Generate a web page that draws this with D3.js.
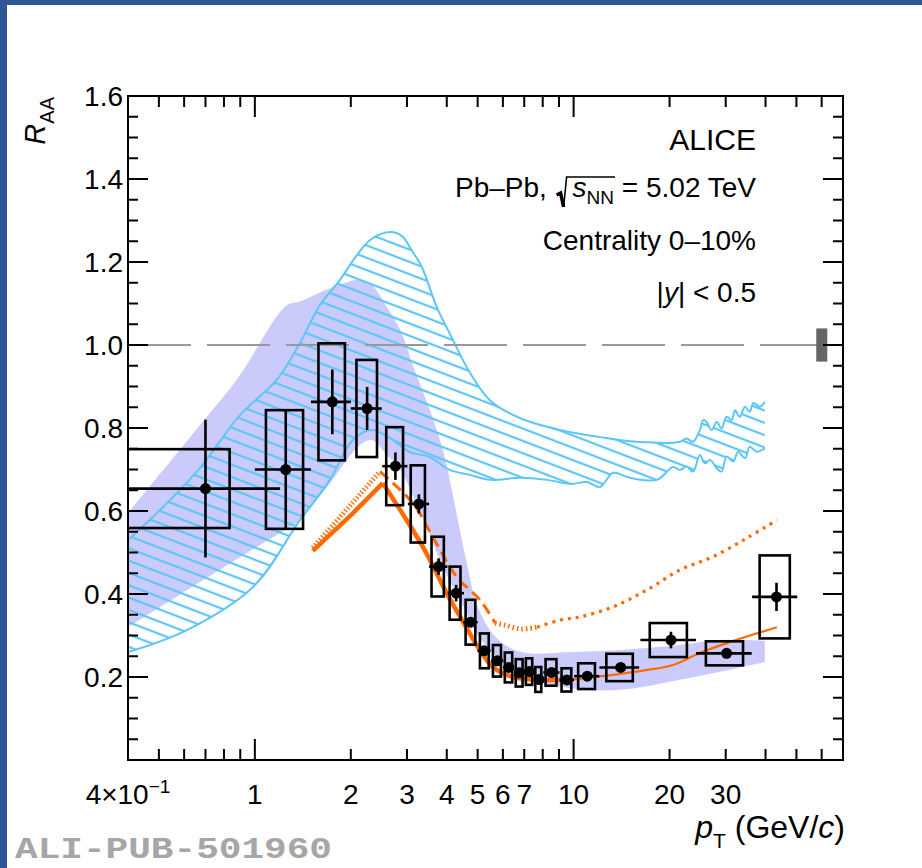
<!DOCTYPE html>
<html><head><meta charset="utf-8">
<script src="https://cdn.jsdelivr.net/npm/d3@7"></script>
<style>body{margin:0;background:#fff}svg{display:block}</style>
</head><body><svg id="c" width="922" height="868"></svg>
<script>
// ---------------- data ----------------
const ptBinLo = [0,1,1.5,2,2.5,3,3.5,4,4.5,5,5.5,6,6.5,7,7.5,8,9,10,12,16,24,36];
const ptBinHi = [1,1.5,2,2.5,3,3.5,4,4.5,5,5.5,6,6.5,7,7.5,8,9,10,12,16,24,36,50];
const ptMean  = [0.70,1.25,1.75,2.25,2.76,3.27,3.77,4.28,4.75,5.24,5.76,6.26,6.75,7.26,7.79,8.53,9.53,11.04,14.05,20.2,30.2,43.3];
const raa     = [0.654,0.700,0.863,0.847,0.708,0.617,0.466,0.402,0.332,0.263,0.239,0.223,0.210,0.213,0.194,0.211,0.193,0.202,0.223,0.289,0.257,0.393];
const statErr = [0.166,0.142,0.078,0.052,0.033,0.023,0.020,0.020,0.012,0.008,0.008,0.008,0.008,0.008,0.008,0.008,0.008,0.008,0.008,0.020,0.012,0.034];
const sysErr  = [0.095,0.143,0.141,0.117,0.094,0.093,0.072,0.064,0.054,0.042,0.038,0.036,0.033,0.032,0.030,0.032,0.028,0.031,0.033,0.041,0.029,0.100];

// model band 1 (filled, lavender)
const bandAPt = [0.4,0.673,0.877,1.259,1.385,1.72,2.136,2.325,2.592,2.86,3.14,3.54,3.89,4.6,5.0,5.7,6.83,9.83,14.0,21.4,28.6,39.8];
const bandAHi = [0.595,0.807,0.916,1.096,1.105,1.137,1.157,1.145,1.092,1.036,0.948,0.843,0.747,0.482,0.369,0.296,0.260,0.260,0.265,0.277,0.289,0.287];
const bandALo = [0.320,0.429,0.484,0.557,0.578,0.667,0.759,0.771,0.735,0.699,0.636,0.542,0.465,0.357,0.301,0.251,0.205,0.173,0.169,0.193,0.212,0.236];

// model band 2 (hatched, light blue)
const bandBUpPt  = [0.4,0.522,0.673,0.898,1.171,1.385,1.60,1.85,2.06,2.30,2.65,2.89,3.10,3.34,3.72,4.14,4.73,5.46,6.78,9.06,12.1,16.1,21.56,22.6,23.7,24.9,25.5,26.1,27.1,28.1,29.1,30.2,31.3,32.1,33.2,34.5,35.7,36.6,38.4,39.8];
const bandBUpRaa = [0.530,0.614,0.704,0.831,0.916,1.005,1.096,1.157,1.210,1.253,1.272,1.263,1.229,1.188,1.092,1.019,0.933,0.867,0.824,0.795,0.778,0.766,0.767,0.775,0.767,0.795,0.819,0.815,0.795,0.815,0.799,0.827,0.819,0.843,0.827,0.851,0.839,0.860,0.851,0.863];
const bandBLoPt  = [0.4,0.612,0.987,1.385,1.72,2.03,2.33,2.65,3.07,3.54,4.09,4.73,5.46,6.78,8.25,9.83,11.0,12.1,13.3,15.0,18.25,20.5,21.56,22.6,23.7,24.9,25.8,26.8,28.1,29.1,30.2,31.7,32.8,34.5,35.7,37.5,39.8];
const bandBLoRaa = [0.260,0.313,0.417,0.578,0.675,0.771,0.795,0.776,0.742,0.730,0.699,0.687,0.675,0.680,0.675,0.665,0.670,0.658,0.692,0.680,0.675,0.706,0.699,0.707,0.695,0.735,0.715,0.723,0.703,0.695,0.731,0.719,0.743,0.727,0.755,0.743,0.751];

// model curve 1 (solid orange)
const solidPt  = [1.52,1.99,2.52,2.86,3.37,4.0,4.56,5.08,5.58,6.45,8.25,9.53,11.0,13.3,17.0,20.5,24.9,30.9,43.4];
const solidRaa = [0.504,0.588,0.667,0.602,0.513,0.402,0.325,0.265,0.224,0.200,0.193,0.193,0.198,0.205,0.217,0.229,0.258,0.284,0.320];
// model curve 2 (dotted / dashed orange)
const dotPt  = [1.52,2.47,3.13,3.62,4.30,5.08,5.67,6.09,6.83,7.68,9.06,10.5,13.3,17.0,21.56,27.4,35.0,43.4];
const dotRaa = [0.511,0.695,0.619,0.537,0.441,0.386,0.330,0.325,0.316,0.320,0.337,0.345,0.369,0.410,0.458,0.490,0.535,0.578];

const normUnc = 0.04;
const normBoxPt = [57.7, 62.5];

const xMajor = [1,10];
const xMinor = [0.5,0.6,0.7,0.8,0.9,2,3,4,5,6,7,8,9,20,30,40,50,60];
const xLabels = [[0.4,"4×10"],[1,"1"],[2,"2"],[3,"3"],[4,"4"],[5,"5"],[6,"6"],[7,"7"],[10,"10"],[20,"20"],[30,"30"]];
const yMajor = [0.2,0.4,0.6,0.8,1.0,1.2,1.4,1.6];
const yLabels = ["0.2","0.4","0.6","0.8","1.0","1.2","1.4","1.6"];

// ---------------- chart ----------------
const FONT = "'Liberation Sans',Arial,Helvetica,sans-serif";
const svg = d3.select("#c").style("font-family", FONT);
const W = 922, H = 868;
const L = 128, R = 843, T = 96, B = 760;
const x = d3.scaleLog().domain([0.4, 70]).range([L, R]);
const y = d3.scaleLinear().domain([0, 1.6]).range([B, T]);

svg.append("rect").attr("width", W).attr("height", H).attr("fill", "#fff");
svg.append("rect").attr("x", 0).attr("y", 0).attr("width", W).attr("height", 5).attr("fill", "#2f5597");
svg.append("rect").attr("x", 0).attr("y", 0).attr("width", 7).attr("height", H).attr("fill", "#2f5597");

const defs = svg.append("defs");
defs.append("clipPath").attr("id", "plot").append("rect")
  .attr("x", L).attr("y", T).attr("width", R - L).attr("height", B - T);
const pat = defs.append("pattern").attr("id", "hatch").attr("patternUnits", "userSpaceOnUse")
  .attr("width", 30).attr("height", 11.5).attr("patternTransform", "rotate(21)");
pat.append("line").attr("x1", 0).attr("x2", 30).attr("y1", 5.75).attr("y2", 5.75)
  .attr("stroke", "#5dc6f6").attr("stroke-width", 2.2);

const g = svg.append("g").attr("clip-path", "url(#plot)");
const smooth = d3.line().x(d => x(d[0])).y(d => y(d[1])).curve(d3.curveCatmullRom.alpha(0.5));
const straight = d3.line().x(d => x(d[0])).y(d => y(d[1]));
function bandPath(up, lo, gen) {
  return gen(up) + "L" + gen(lo.slice().reverse()).slice(1) + "Z";
}

// band A
const aUp = bandAPt.map((p, i) => [p, bandAHi[i]]);
const aLo = bandAPt.map((p, i) => [p, bandALo[i]]);
g.append("path").attr("d", bandPath(aUp, aLo, smooth)).attr("fill", "#cbcbfb").attr("stroke", "none");

// band B
const bUp = bandBUpPt.map((p, i) => [p, bandBUpRaa[i]]);
const bLo = bandBLoPt.map((p, i) => [p, bandBLoRaa[i]]);
g.append("path").attr("d", bandPath(bUp, bLo, smooth)).attr("fill", "url(#hatch)");
g.append("path").attr("d", smooth(bUp)).attr("fill", "none").attr("stroke", "#5dc6f6").attr("stroke-width", 2);
g.append("path").attr("d", smooth(bLo)).attr("fill", "none").attr("stroke", "#5dc6f6").attr("stroke-width", 2);

// unity line
g.append("line").attr("x1", L).attr("x2", R).attr("y1", y(1)).attr("y2", y(1))
  .attr("stroke", "#999").attr("stroke-width", 2).attr("stroke-dasharray", "63,16");
g.append("rect").attr("x", x(normBoxPt[0])).attr("width", x(normBoxPt[1]) - x(normBoxPt[0]))
  .attr("y", y(1 + normUnc)).attr("height", y(1 - normUnc) - y(1 + normUnc)).attr("fill", "#666");

// orange curves
const orange = "#ff6a00";
const sPts = solidPt.map((p, i) => [p, solidRaa[i]]);
g.append("path").attr("d", smooth(sPts.slice(2))).attr("fill", "none").attr("stroke", orange).attr("stroke-width", 2.2);
g.append("path").attr("d", straight(sPts.slice(0, 3))).attr("fill", "none").attr("stroke", orange).attr("stroke-width", 4.5);
g.append("path").attr("d", smooth(sPts.slice(2).filter(d => d[0] <= 9.6))).attr("fill", "none").attr("stroke", orange).attr("stroke-width", 4.5);

const dPts = dotPt.map((p, i) => [p, dotRaa[i]]);
function piece(i0, i1, w, dash, gen) {
  g.append("path").attr("d", gen(dPts.slice(i0, i1 + 1))).attr("fill", "none")
    .attr("stroke", orange).attr("stroke-width", w).attr("stroke-dasharray", dash);
}
piece(0, 1, 5, "1.3,2.2", straight);
piece(1, 6, 3, "11,6", smooth);
piece(6, 9, 5, "1.5,3", smooth);
piece(9, dPts.length - 1, 3.2, "3,5", smooth);

// data
const dg = svg.append("g").attr("clip-path", "url(#plot)");
const lw = 2.6;
ptMean.forEach((p, i) => {
  const c = (ptBinLo[i] + ptBinHi[i]) / 2, hw = (ptBinHi[i] - ptBinLo[i]) / 2;
  const bw = (ptBinHi[i] - ptBinLo[i]) / 3;
  dg.append("rect").attr("x", x(Math.max(c - bw, 0.3))).attr("width", x(c + bw) - x(Math.max(c - bw, 0.3)))
    .attr("y", y(raa[i] + sysErr[i])).attr("height", y(raa[i] - sysErr[i]) - y(raa[i] + sysErr[i]))
    .attr("fill", "none").attr("stroke", "#000").attr("stroke-width", lw);
  dg.append("line").attr("x1", x(Math.max(p - hw, 0.3))).attr("x2", x(p + hw)).attr("y1", y(raa[i])).attr("y2", y(raa[i]))
    .attr("stroke", "#000").attr("stroke-width", lw);
  dg.append("line").attr("x1", x(p)).attr("x2", x(p)).attr("y1", y(raa[i] - statErr[i])).attr("y2", y(raa[i] + statErr[i]))
    .attr("stroke", "#000").attr("stroke-width", lw);
  dg.append("circle").attr("cx", x(p)).attr("cy", y(raa[i])).attr("r", 5.5).attr("fill", "#000");
});

// frame & ticks
svg.append("rect").attr("x", L).attr("y", T).attr("width", R - L).attr("height", B - T)
  .attr("fill", "none").attr("stroke", "#000").attr("stroke-width", 2);
const tk = svg.append("g").attr("stroke", "#000").attr("stroke-width", 2);
xMajor.forEach(v => {
  tk.append("line").attr("x1", x(v)).attr("x2", x(v)).attr("y1", B).attr("y2", B - 21);
  tk.append("line").attr("x1", x(v)).attr("x2", x(v)).attr("y1", T).attr("y2", T + 21);
});
xMinor.forEach(v => {
  tk.append("line").attr("x1", x(v)).attr("x2", x(v)).attr("y1", B).attr("y2", B - 11);
  tk.append("line").attr("x1", x(v)).attr("x2", x(v)).attr("y1", T).attr("y2", T + 11);
});
d3.range(0, 1.6001, 0.05).forEach(v => {
  const major = Math.abs(v / 0.2 - Math.round(v / 0.2)) < 1e-6;
  const len = major ? 20 : 10;
  tk.append("line").attr("x1", L).attr("x2", L + len).attr("y1", y(v)).attr("y2", y(v));
  tk.append("line").attr("x1", R).attr("x2", R - len).attr("y1", y(v)).attr("y2", y(v));
});

// tick labels
xLabels.forEach(([v, s]) => {
  const t = svg.append("text").attr("x", x(v)).attr("y", 804).attr("text-anchor", "middle").attr("font-size", 28);
  t.append("tspan").text(s);
  if (v === 0.4) t.append("tspan").attr("font-size", 19).attr("dy", -11).text("−1");
});
yMajor.forEach((v, i) => {
  svg.append("text").attr("x", 123).attr("y", y(v) + 10).attr("text-anchor", "end").attr("font-size", 28).text(yLabels[i]);
});

// axis titles
const yt = svg.append("text").attr("transform", "translate(45,97) rotate(-90)").attr("text-anchor", "end").attr("font-size", 29);
yt.append("tspan").attr("font-style", "italic").text("R");
yt.append("tspan").attr("font-size", 20).attr("dy", 9).text("AA");

const xt = svg.append("text").attr("x", 845).attr("y", 838).attr("text-anchor", "end").attr("font-size", 32);
xt.append("tspan").attr("font-style", "italic").text("p");
xt.append("tspan").attr("font-size", 21).attr("dy", 10).text("T");
xt.append("tspan").attr("dy", -10).text(" (GeV/");
xt.append("tspan").attr("font-style", "italic").text("c");
xt.append("tspan").text(")");

svg.append("text").attr("x", 15).attr("y", 858).attr("font-size", 29).attr("font-weight", "bold")
  .style("font-family", "'Liberation Mono','Courier New',monospace").style("fill", "#a6a6a6")
  .attr("textLength", 317).attr("lengthAdjust", "spacingAndGlyphs").text("ALI-PUB-501960");

// legend texts
svg.append("text").attr("x", 756).attr("y", 150).attr("text-anchor", "end").attr("font-size", 30).text("ALICE");
const by = 197;
const t2 = svg.append("text").attr("x", 756).attr("y", by).attr("text-anchor", "end").attr("font-size", 28);
t2.append("tspan").text("Pb–Pb, ");
t2.append("tspan").attr("dx", 18).attr("font-style", "italic").text("s");
t2.append("tspan").attr("font-size", 19).attr("dy", 7).text("NN");
t2.append("tspan").attr("dy", -7).text(" = 5.02 TeV");
const n2 = t2.node();
const sx = n2.getStartPositionOfChar(7).x;
const nx = n2.getEndPositionOfChar(9).x;
svg.append("path").attr("d", `M${sx - 16},${by - 2} L${sx - 12},${by - 4} L${sx - 9},${by + 10}`)
  .attr("fill", "none").attr("stroke", "#000").attr("stroke-width", 3.5);
svg.append("path").attr("d", `M${sx - 9},${by + 10} L${sx - 6},${by - 20} L${nx + 1},${by - 20}`)
  .attr("fill", "none").attr("stroke", "#000").attr("stroke-width", 1.6);
svg.append("text").attr("x", 756).attr("y", 250).attr("text-anchor", "end").attr("font-size", 28).text("Centrality 0–10%");
const t4 = svg.append("text").attr("x", 756).attr("y", 302).attr("text-anchor", "end").attr("font-size", 28);
t4.append("tspan").text("|");
t4.append("tspan").attr("font-style", "italic").text("y");
t4.append("tspan").text("| < 0.5");
</script></body></html>
